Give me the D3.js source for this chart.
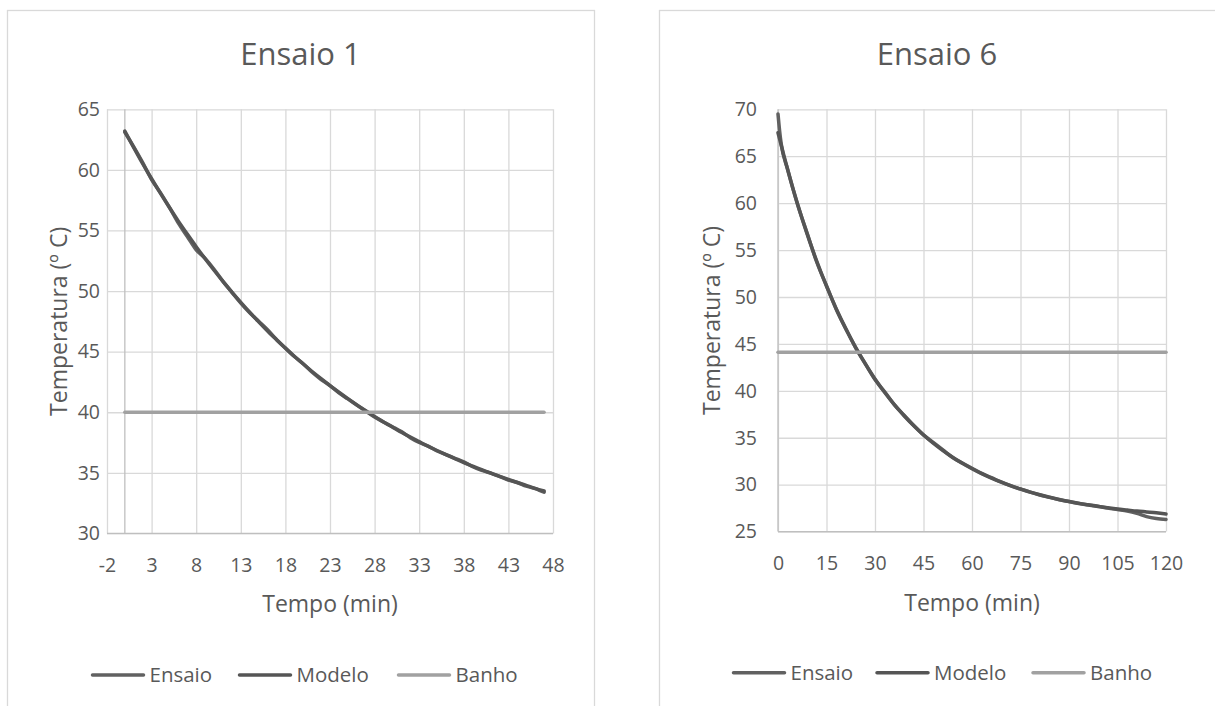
<!DOCTYPE html>
<html>
<head>
<meta charset="utf-8">
<script src="https://cdn.jsdelivr.net/npm/d3@7"></script>
<style>
  html, body { margin: 0; padding: 0; background: #fff; }
  svg { display: block; font-family: "Open Sans", sans-serif; }
</style>
</head>
<body>
<svg id="chart" width="1215" height="706"></svg>
<script>
// ---------- Data: Ensaio 1 ----------
const tempo1 = [0,1,2,3,4,5,6,7,8,9,10,11,12,13,14,15,16,17,18,19,20,21,22,23,24,25,26,27,28,29,30,31,32,33,34,35,36,37,38,39,40,41,42,43,44,45,46,47];
const ensaio1 = [63.1,61.9,60.6,59.2,58.1,56.9,55.6,54.5,53.4,52.7,51.8,50.8,49.9,49.0,48.2,47.5,46.8,46.0,45.3,44.6,44.0,43.3,42.7,42.2,41.6,41.1,40.6,40.1,39.6,39.2,38.8,38.4,37.9,37.5,37.2,36.8,36.5,36.2,35.9,35.5,35.2,35.0,34.7,34.4,34.2,33.9,33.7,33.4];
const modelo1 = [63.20,61.84,60.52,59.27,58.06,56.89,55.77,54.70,53.66,52.67,51.72,50.80,49.92,49.07,48.25,47.47,46.71,45.99,45.29,44.62,43.98,43.36,42.77,42.20,41.65,41.12,40.61,40.12,39.65,39.20,38.77,38.35,37.95,37.57,37.19,36.84,36.50,36.17,35.85,35.55,35.26,34.97,34.71,34.45,34.20,33.96,33.72,33.50];
const banhoTempo1 = [0, 47];
const banho1 = [40, 40];
const xTicks1 = [-2,3,8,13,18,23,28,33,38,43,48];
const yTicks1 = [30,35,40,45,50,55,60,65];

// ---------- Data: Ensaio 6 ----------
const tempoEnsaio6 = [0,0.5,1,3,6,9,12,15,18,21,24,27,30,33,36,39,42,45,48,51,54,57,60,63,66,69,72,75,78,81,84,87,90,93,96,99,102,105,108,111,114,117,120];
const ensaio6 = [69.5,67.7,66.3,63.6,59.9,56.8,53.7,51.2,48.7,46.6,44.6,42.9,41.2,39.9,38.5,37.4,36.3,35.3,34.5,33.7,32.9,32.3,31.75,31.2,30.75,30.3,29.9,29.55,29.2,28.9,28.65,28.4,28.2,28.0,27.85,27.7,27.5,27.35,27.2,26.95,26.6,26.4,26.3];
const tempoModelo6 = [0,3,6,9,12,15,18,21,24,27,30,33,36,39,42,45,48,51,54,57,60,63,66,69,72,75,78,81,84,87,90,93,96,99,102,105,108,111,114,117,120];
const modelo6 = [67.50,63.54,59.96,56.72,53.79,51.15,48.75,46.59,44.64,42.87,41.27,39.82,38.52,37.34,36.27,35.30,34.43,33.64,32.93,32.28,31.70,31.17,30.70,30.27,29.88,29.52,29.20,28.92,28.66,28.42,28.21,28.02,27.84,27.68,27.54,27.41,27.30,27.19,27.10,27.01,26.88];
const banhoTempo6 = [0, 120];
const banho6 = [44.1, 44.1];
const xTicks6 = [0,15,30,45,60,75,90,105,120];
const yTicks6 = [25,30,35,40,45,50,55,60,65,70];

const seriesNames = ["Ensaio", "Modelo", "Banho"];
const seriesColors = ["#616161", "#555555", "#a1a1a1"];

const TEXT = "#595959", GRID = "#d9d9d9", AXIS = "#bfbfbf";
const svg = d3.select("#chart");

function drawChart(cfg) {
  const g = svg.append("g");
  // chart border
  g.append("rect").attr("x", cfg.box[0] + 0.5).attr("y", cfg.box[1] + 0.5)
    .attr("width", cfg.box[2] - cfg.box[0]).attr("height", cfg.box[3] - cfg.box[1])
    .attr("fill", "#fff").attr("stroke", GRID).attr("stroke-width", 1.3);

  const x = d3.scaleLinear().domain(cfg.xDomain).range([cfg.plot[0], cfg.plot[1]]);
  const y = d3.scaleLinear().domain(cfg.yDomain).range([cfg.plot[3], cfg.plot[2]]);

  // gridlines
  g.append("g").attr("transform", `translate(0,${cfg.plot[3]})`)
    .call(d3.axisBottom(x).tickValues(cfg.xTicks).tickSize(-(cfg.plot[3] - cfg.plot[2])).tickFormat(""))
    .call(a => a.select(".domain").remove())
    .call(a => a.selectAll("line").attr("stroke", GRID).attr("stroke-width", 1.3));
  g.append("g").attr("transform", `translate(${cfg.plot[0]},0)`)
    .call(d3.axisLeft(y).tickValues(cfg.yTicks).tickSize(-(cfg.plot[1] - cfg.plot[0])).tickFormat(""))
    .call(a => a.select(".domain").remove())
    .call(a => a.selectAll("line").attr("stroke", GRID).attr("stroke-width", 1.3));

  // axis lines
  g.append("line").attr("x1", x(cfg.xDomain[0])).attr("x2", x(cfg.xDomain[1]))
    .attr("y1", y(cfg.yDomain[0])).attr("y2", y(cfg.yDomain[0]))
    .attr("stroke", AXIS).attr("stroke-width", 1.3);
  g.append("line").attr("x1", x(cfg.yAxisAt)).attr("x2", x(cfg.yAxisAt))
    .attr("y1", y(cfg.yDomain[0])).attr("y2", y(cfg.yDomain[1]))
    .attr("stroke", AXIS).attr("stroke-width", 1.3);

  // tick labels
  const fmt = d => String(d);
  g.append("g").attr("transform", `translate(0,${cfg.plot[3]})`)
    .call(d3.axisBottom(x).tickValues(cfg.xTicks).tickSize(0).tickPadding(25).tickFormat(fmt))
    .call(a => a.select(".domain").remove())
    .call(a => a.selectAll("text").attr("fill", TEXT).style("font-size", "19.5px").style("font-family", "Open Sans"));
  g.append("g").attr("transform", `translate(${cfg.plot[0]},0)`)
    .call(d3.axisLeft(y).tickValues(cfg.yTicks).tickSize(0).tickPadding(cfg.yPad).tickFormat(fmt))
    .call(a => a.select(".domain").remove())
    .call(a => a.selectAll("text").attr("fill", TEXT).style("font-size", "19.5px").style("font-family", "Open Sans"));

  // series
  const line = d3.line().x(d => x(d[0])).y(d => y(d[1])).curve(d3.curveMonotoneX);
  cfg.series.forEach((s, i) => {
    g.append("path").datum(d3.zip(s.t, s.v))
      .attr("d", line).attr("fill", "none")
      .attr("stroke", seriesColors[i]).attr("stroke-width", 3.5)
      .attr("stroke-linecap", "round").attr("stroke-linejoin", "round");
  });

  // title
  g.append("text").attr("x", cfg.titlePos[0]).attr("y", cfg.titlePos[1])
    .attr("text-anchor", "middle").attr("fill", TEXT).style("font-size", "31px").text(cfg.title);
  // axis titles
  g.append("text").attr("x", (cfg.plot[0] + cfg.plot[1]) / 2).attr("y", cfg.xTitleY)
    .attr("text-anchor", "middle").attr("fill", TEXT).style("font-size", "23px").text("Tempo (min)");
  g.append("text")
    .attr("transform", `translate(${cfg.yTitleX},${(cfg.plot[2] + cfg.plot[3]) / 2}) rotate(-90)`)
    .attr("text-anchor", "middle").attr("fill", TEXT).style("font-size", "23px").text("Temperatura (º C)");

  // legend
  cfg.legend.forEach((lx, i) => {
    g.append("line").attr("x1", lx).attr("x2", lx + 51)
      .attr("y1", cfg.legendY).attr("y2", cfg.legendY)
      .attr("stroke", seriesColors[i]).attr("stroke-width", 3.5).attr("stroke-linecap", "round");
    g.append("text").attr("x", lx + 57).attr("y", cfg.legendY + 7)
      .attr("fill", TEXT).style("font-size", "20.5px").text(seriesNames[i]);
  });
}

drawChart({
  box: [7, 10, 594, 720],
  plot: [107, 553, 109.3, 533.4],
  xDomain: [-2, 48], yDomain: [30, 65], yAxisAt: 0,
  xTicks: xTicks1, yTicks: yTicks1, yPad: 7,
  title: "Ensaio 1", titlePos: [300.5, 65],
  xTitleY: 611.5, yTitleX: 67,
  legend: [92.5, 239.5, 398.5], legendY: 675,
  series: [
    { t: tempo1, v: ensaio1 },
    { t: tempo1, v: modelo1 },
    { t: banhoTempo1, v: banho1 }
  ]
});

drawChart({
  box: [659, 10, 1225, 720],
  plot: [778, 1166, 109.3, 531.6],
  xDomain: [0, 120], yDomain: [25, 70], yAxisAt: 0,
  xTicks: xTicks6, yTicks: yTicks6, yPad: 21,
  title: "Ensaio 6", titlePos: [937, 65],
  xTitleY: 610.5, yTitleX: 720,
  legend: [733.5, 877, 1033], legendY: 672.7,
  series: [
    { t: tempoEnsaio6, v: ensaio6 },
    { t: tempoModelo6, v: modelo6 },
    { t: banhoTempo6, v: banho6 }
  ]
});
</script>
</body>
</html>
